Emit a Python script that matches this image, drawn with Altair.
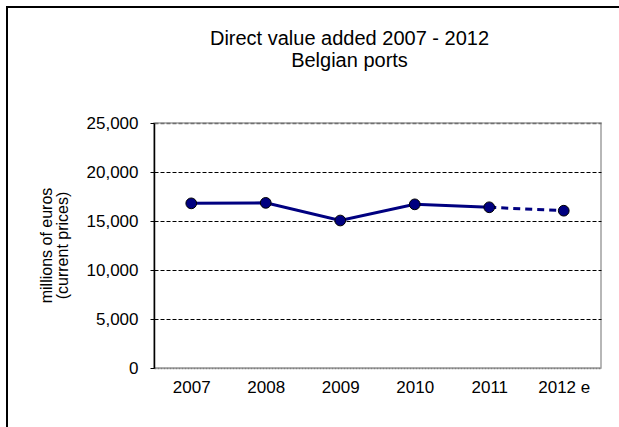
import altair as alt
import pandas as pd

years = ["2007", "2008", "2009", "2010", "2011", "2012 e"]
values = [16800, 16850, 15050, 16700, 16400, 16050]
actual_years = ["2007", "2008", "2009", "2010", "2011"]
estimate_years = ["2011", "2012 e"]
y_ticks = [0, 5000, 10000, 15000, 20000, 25000]

df = pd.DataFrame({"year": years, "value": values})
df_actual = df[df["year"].isin(actual_years)]
df_est = df[df["year"].isin(estimate_years)]

FONT = "Liberation Sans"
NAVY = "#000080"

x_enc = alt.X(
    "year:N",
    sort=years,
    scale=alt.Scale(type="point", padding=0.5),
    axis=alt.Axis(
        title=None,
        labelAngle=0,
        labelFontSize=17,
        labelColor="black",
        labelPadding=11,
        ticks=False,
        domainColor="#808080",
        domainWidth=1.5,
        domainDash=[2, 1],
        grid=False,
    ),
)
y_enc = alt.Y(
    "value:Q",
    scale=alt.Scale(domain=[0, 25000], nice=False),
    axis=alt.Axis(
        values=y_ticks,
        format=",d",
        title=["millions of euros", "(current prices)"],
        titleFontSize=16,
        titleFontWeight="normal",
        titleColor="black",
        titleLineHeight=16,
        titleX=-100,
        titleY=122,
        titleAngle=270,
        titleAlign="center",
        titleBaseline="bottom",
        labelFontSize=17,
        labelColor="black",
        labelPadding=12,
        tickSize=4,
        tickColor="black",
        domainColor="black",
        domainWidth=1.5,
        grid=True,
        gridColor={"condition": {"test": "datum.value == 25000", "value": "#707070"}, "value": "black"},
        gridWidth={"condition": {"test": "datum.value == 25000", "value": 1.5}, "value": 1},
        gridDash=[4, 2],
        gridOpacity={"condition": {"test": "datum.value == 0", "value": 0}, "value": 1},
    ),
)

frame = alt.Chart(df).mark_rect(fill=None, stroke="black", strokeWidth=2).encode(
    x=alt.value(-147), x2=alt.value(700), y=alt.value(-116), y2=alt.value(600)
)

line_actual = alt.Chart(df_actual).mark_line(color=NAVY, strokeWidth=3).encode(x=x_enc, y=y_enc)
line_est = alt.Chart(df_est).mark_line(color=NAVY, strokeWidth=3, strokeDash=[7, 5]).encode(x=x_enc, y=y_enc)
points = alt.Chart(df).mark_point(
    shape="circle", filled=True, fill=NAVY, stroke="black", strokeWidth=1, size=115, opacity=1
).encode(x=x_enc, y=y_enc)

chart = (
    alt.layer(frame, line_actual, line_est, points)
    .properties(
        width=447,
        height=245,
        autosize=alt.AutoSizeParams(type="none"),
        padding={"left": 154, "top": 123, "right": 18, "bottom": 59},
        title=alt.TitleParams(
            text=["Direct value added 2007 - 2012", "Belgian ports"],
            fontSize=20,
            fontWeight="normal",
            color="black",
            anchor="middle",
            lineHeight=22.5,
            dx=-28,
            dy=69,
        ),
    )
    .configure(font=FONT)
    .configure_view(stroke="#a0a0a0", strokeWidth=1.5)
)

chart.save("out.html", embed_options={"renderer": "svg", "actions": False})
